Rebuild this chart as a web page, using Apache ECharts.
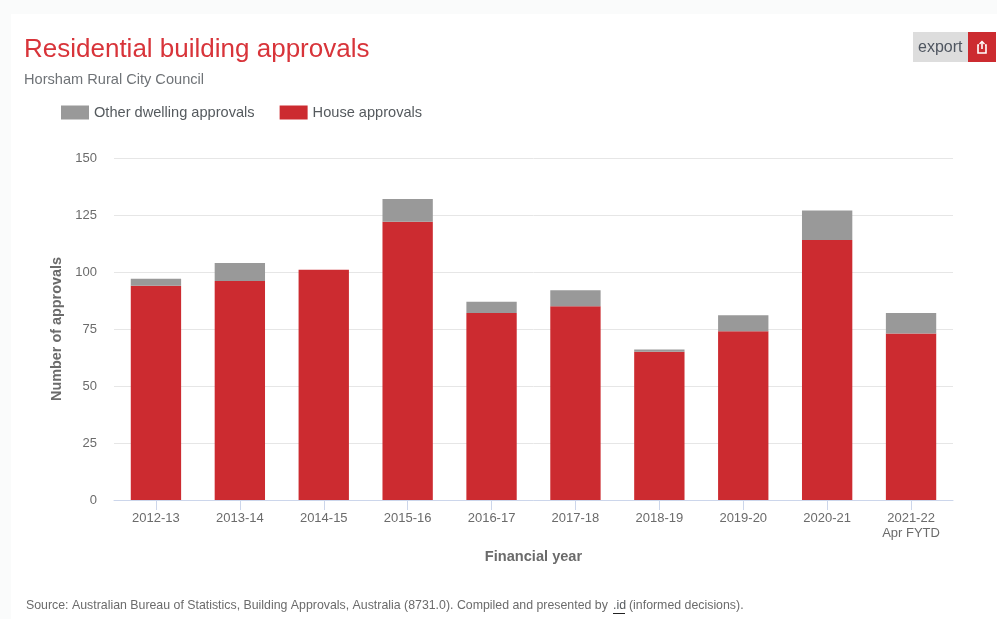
<!DOCTYPE html>
<html>
<head>
<meta charset="utf-8">
<style>html,body{margin:0;padding:0;background:#fff}#chart{width:997px;height:619px}</style>
<script src="https://cdn.jsdelivr.net/npm/echarts@6/dist/echarts.min.js"></script>
</head>
<body>
<div id="chart"></div>
<script>
// Residential building approvals, Horsham Rural City Council
const categories = ['2012-13','2013-14','2014-15','2015-16','2016-17','2017-18','2018-19','2019-20','2020-21','2021-22\nApr FYTD'];
const houseApprovals = [94,96,101,122,82,85,65,74,114,73];
const otherDwellingApprovals = [3,8,0,10,5,7,1,7,13,9];
const yTicks = {min:0,max:150,interval:25};

const FONT = '"Liberation Sans", Arial, sans-serif';
const RED = '#cc2b30', GREY = '#999999', TEXT = '#6b6b6b';

const chart = echarts.init(document.getElementById('chart'), null, {renderer:'canvas'});
chart.setOption({
  animation:false,
  backgroundColor:'#ffffff',
  textStyle:{fontFamily:FONT},
  title:[
    {text:'Residential building approvals',left:24,top:37,padding:0,
     textStyle:{color:'#d8343a',fontSize:26,fontWeight:'normal',fontFamily:FONT}},
    {text:'Horsham Rural City Council',left:24,top:72,padding:0,
     textStyle:{color:'#6f7377',fontSize:14.6,fontWeight:'normal',fontFamily:FONT}}
  ],
  legend:{
    data:['Other dwelling approvals','House approvals'],
    left:61,top:105,padding:0,itemWidth:28,itemHeight:14,itemGap:25,
    icon:'rect',selectedMode:false,
    textStyle:{color:'#555a5e',fontSize:14.6,fontFamily:FONT}
  },
  grid:{left:114,right:44,top:158,bottom:119,containLabel:false},
  xAxis:{
    type:'category',data:categories,
    name:'Financial year',nameLocation:'middle',nameGap:49,
    nameTextStyle:{color:TEXT,fontSize:14.6,fontWeight:'bold',fontFamily:FONT},
    axisLine:{lineStyle:{color:'#ccd6eb',width:1}},
    axisTick:{show:true,alignWithLabel:true,length:10,lineStyle:{color:'#ccd6eb'}},
    axisLabel:{color:TEXT,fontSize:13,fontFamily:FONT,margin:11,lineHeight:15,interval:0}
  },
  yAxis:{
    type:'value',min:yTicks.min,max:yTicks.max,interval:yTicks.interval,
    name:'Number of approvals',nameLocation:'middle',nameGap:50,nameRotate:90,
    nameTextStyle:{color:TEXT,fontSize:14.4,fontWeight:'bold',fontFamily:FONT},
    axisLine:{show:false},axisTick:{show:false},
    axisLabel:{color:TEXT,fontSize:13,fontFamily:FONT,margin:17,align:'right',padding:[3,0,0,0]},
    splitLine:{lineStyle:{color:'#e6e6e6',width:1}}
  },
  series:[
    {name:'House approvals',type:'bar',stack:'approvals',data:houseApprovals,barWidth:'60%',
     itemStyle:{color:RED}},
    {name:'Other dwelling approvals',type:'bar',stack:'approvals',data:otherDwellingApprovals,barWidth:'60%',
     itemStyle:{color:GREY}}
  ],
  graphic:[
    // faint page margin around the card
    {type:'rect',silent:true,z:-1,shape:{x:0,y:0,width:11,height:619},style:{fill:'#fafbfb'}},
    {type:'rect',silent:true,z:-1,shape:{x:0,y:0,width:997,height:14},style:{fill:'#fafbfb'}},
    // export button
    {type:'rect',shape:{x:913,y:32,width:56,height:30},style:{fill:'#dddddd'}},
    {type:'rect',shape:{x:968,y:32,width:28,height:30},style:{fill:'#cc2b30'}},
    {type:'text',x:918,y:40,style:{text:'export',fill:'#4f5660',fontSize:16,fontFamily:FONT}},
    // share glyph on the button
    {type:'polyline',shape:{points:[[979,45],[978,45],[978,53],[986,53],[986,45],[985,45]]},
     style:{stroke:'#ffffff',lineWidth:1.6,fill:null}},
    {type:'line',shape:{x1:982,y1:42,x2:982,y2:49},style:{stroke:'#ffffff',lineWidth:1.6}},
    {type:'polyline',shape:{points:[[979.5,44],[982,41.5],[984.5,44]]},style:{stroke:'#ffffff',lineWidth:1.4,fill:null}},
    // source note
    {type:'text',x:26,y:600,style:{
      text:'Source: Australian Bureau of Statistics, Building Approvals, Australia (8731.0). Compiled and presented by',
      fill:'#6b6b6b',fontSize:12.35,fontFamily:FONT}},
    {type:'text',x:613,y:600,style:{text:'.id',fill:'#555a5e',fontSize:12.35,fontFamily:FONT}},
    {type:'line',shape:{x1:613,y1:613.5,x2:625,y2:613.5},style:{stroke:'#222222',lineWidth:1}},
    {type:'text',x:629,y:600,style:{text:'(informed decisions).',fill:'#6b6b6b',fontSize:12.35,fontFamily:FONT}}
  ]
});
</script>
</body>
</html>
